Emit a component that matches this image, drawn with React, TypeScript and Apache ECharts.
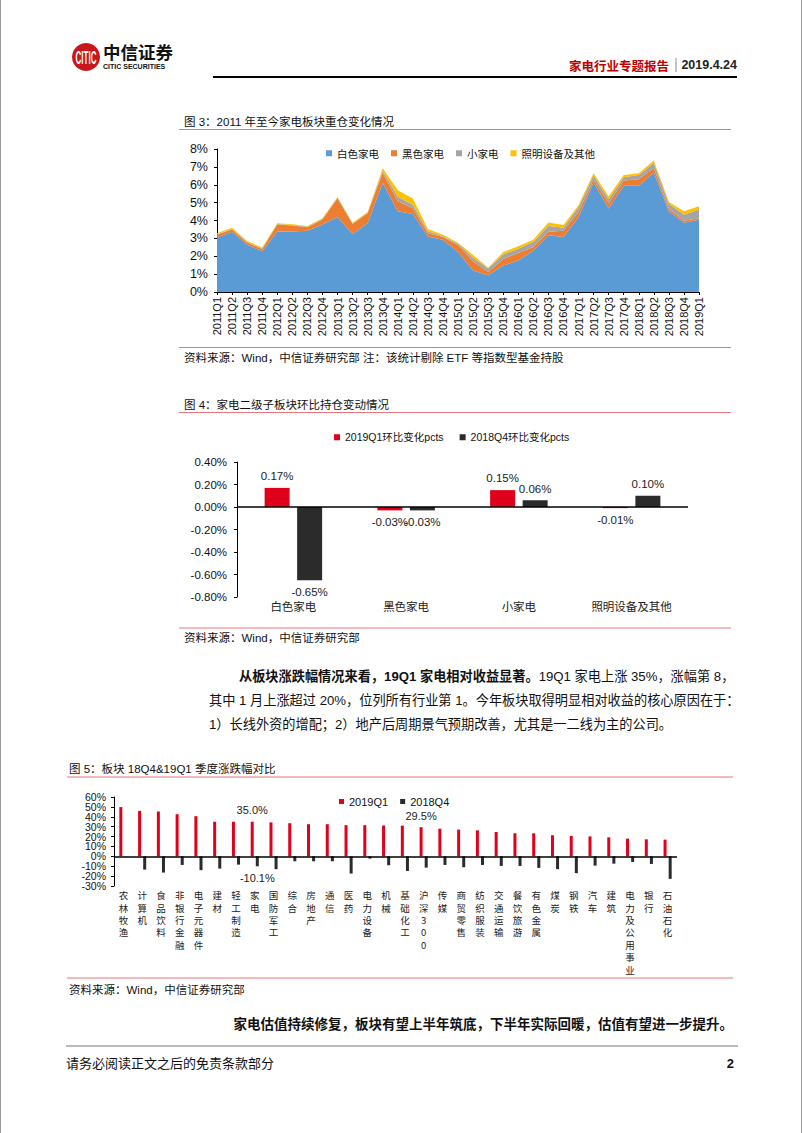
import React, { useEffect, useRef } from 'react';
import * as echarts from 'echarts';

const FF = "'Liberation Sans', 'Noto Sans CJK SC', sans-serif";
const CJK = "'Noto Sans CJK SC', 'Liberation Sans', sans-serif";

// ---- Figure 3: stacked area (weights, %) ----
const quarters = [
  '2011Q1', '2011Q2', '2011Q3', '2011Q4', '2012Q1', '2012Q2', '2012Q3', '2012Q4',
  '2013Q1', '2013Q2', '2013Q3', '2013Q4', '2014Q1', '2014Q2', '2014Q3', '2014Q4',
  '2015Q1', '2015Q2', '2015Q3', '2015Q4', '2016Q1', '2016Q2', '2016Q3', '2016Q4',
  '2017Q1', '2017Q2', '2017Q3', '2017Q4', '2018Q1', '2018Q2', '2018Q3', '2018Q4', '2019Q1',
];
const whiteGoods = [3.03, 3.37, 2.64, 2.28, 3.38, 3.38, 3.42, 3.78, 4.19, 3.25, 3.85, 6.1, 4.52, 4.36, 3.1, 2.92, 2.24, 1.2, 0.94, 1.48, 1.76, 2.32, 3.17, 3.07, 4.18, 6.12, 4.67, 5.94, 5.95, 6.69, 4.52, 3.87, 4.04];
const blackGoods = [0.17, 0.13, 0.13, 0.12, 0.4, 0.34, 0.2, 0.27, 1.06, 0.55, 0.55, 0.57, 0.55, 0.32, 0.18, 0.15, 0.38, 0.52, 0.18, 0.37, 0.42, 0.2, 0.2, 0.35, 0.3, 0.17, 0.29, 0.3, 0.36, 0.25, 0.14, 0.11, 0.08];
const smallAppl = [0.03, 0.03, 0.03, 0.03, 0.03, 0.03, 0.03, 0.03, 0.03, 0.03, 0.03, 0.12, 0.26, 0.2, 0.12, 0.05, 0.08, 0.2, 0.19, 0.25, 0.24, 0.28, 0.32, 0.18, 0.28, 0.23, 0.23, 0.18, 0.24, 0.27, 0.28, 0.34, 0.49];
const lightingEtc = [0.06, 0.06, 0.06, 0.06, 0.04, 0.04, 0.04, 0.04, 0.04, 0.04, 0.04, 0.13, 0.36, 0.35, 0.12, 0.08, 0.05, 0.15, 0.05, 0.13, 0.14, 0.13, 0.2, 0.15, 0.1, 0.13, 0.15, 0.13, 0.1, 0.15, 0.1, 0.2, 0.19];
const areaNames = ['白色家电', '黑色家电', '小家电', '照明设备及其他'];
const areaColors = ['#5B9BD5', '#ED7D31', '#A5A5A5', '#FFC000'];

// ---- Figure 4: QoQ change (pcts) ----
const subSectors = ['白色家电', '黑色家电', '小家电', '照明设备及其他'];
const chg19Q1 = [0.17, -0.03, 0.15, -0.01];
const chg18Q4 = [-0.65, -0.03, 0.06, 0.1];
const chgNames = ['2019Q1环比变化pcts', '2018Q4环比变化pcts'];

// ---- Figure 5: sector returns (%) ----
const sectors = ['农林牧渔', '计算机', '食品饮料', '非银行金融', '电子元器件', '建材', '轻工制造', '家电', '国防军工', '综合', '房地产', '通信', '医药', '电力设备', '机械', '基础化工', '沪深300', '传媒', '商贸零售', '纺织服装', '交通运输', '餐饮旅游', '有色金属', '煤炭', '钢铁', '汽车', '建筑', '电力及公用事业', '银行', '石油石化'];
const ret19Q1 = [49.8, 46.0, 45.3, 42.6, 40.6, 35.0, 35.0, 35.0, 34.3, 33.5, 32.5, 32.5, 31.5, 31.5, 31.2, 31.0, 29.5, 28.0, 27.0, 26.3, 24.6, 23.3, 23.3, 21.3, 20.6, 20.2, 19.2, 17.9, 17.2, 16.9];
const ret18Q4 = [0.3, -13.4, -16.4, -8.7, -14.0, -12.4, -8.4, -10.1, -13.0, -5.0, -5.0, -5.0, -17.4, -2.3, -9.0, -14.8, -11.4, -8.7, -11.0, -8.7, -9.7, -9.7, -11.7, -13.0, -17.0, -9.4, -7.4, -5.7, -7.7, -22.8];
const retNames = ['2019Q1', '2018Q4'];
const labeledQ1 = ['家电', '沪深300'];
const labeledQ4 = ['家电'];

const RED = '#E0001B';
const DARK = '#2B2B2B';
const PINK = '#E5767D';

function T(text: string, x: number, y: number, o: any = {}) {
  const style: any = {
    text,
    fill: o.fill ?? '#111',
    font: `${o.bold ? 'bold ' : ''}${o.size ?? 12}px ${o.family ?? FF}`,
    textAlign: o.align ?? 'left',
    align: o.align ?? 'left',
    textVerticalAlign: 'middle',
    verticalAlign: 'middle',
  };
  if (o.rich) style.rich = o.rich;
  return {
    type: 'text',
    x,
    y,
    silent: true,
    scaleX: o.scaleX ?? 1,
    scaleY: o.scaleY ?? 1,
    style,
  };
}
function L(x1: number, y1: number, x2: number, y2: number, stroke: string, lineWidth = 1) {
  return { type: 'line', silent: true, shape: { x1, y1, x2, y2 }, style: { stroke, lineWidth } };
}

const pctFmt2 = (v: number) => (Math.abs(v) < 1e-9 ? '0.00' : v.toFixed(2)) + '%';

export default function App() {
  const ref = useRef<HTMLDivElement>(null);
  useEffect(() => {
    const chart = echarts.init(ref.current!, null, { renderer: 'svg', width: 802, height: 1133 });

    const areaData = [whiteGoods, blackGoods, smallAppl, lightingEtc];
    const P = 13.2;

    // figure 5 y-axis labels are split over two coincident axes so that none is dropped
    const retAxisLabel = (odd: boolean) => ({
      fontSize: 10.5, color: '#111', margin: 8, showMinLabel: true, showMaxLabel: true,
      formatter: (v: number) => {
        const k = Math.round(v / 10);
        const isOdd = Math.abs(k) % 2 === 1;
        return isOdd === odd ? `${Math.round(v)}%` : '';
      },
    });

    const option: any = {
      animation: false,
      textStyle: { fontFamily: FF },
      grid: [
        { left: 216, right: 104, top: 149, bottom: 841 },
        { left: 236, right: 115, top: 462, bottom: 1133 - 597 },
        { left: 113, right: 126, top: 797, bottom: 1133 - 886 },
      ],
      legend: [
        {
          data: areaNames, left: 320, top: 143, icon: 'rect', itemWidth: 6, itemHeight: 6, itemGap: 12,
          textStyle: { fontSize: 10.5, color: '#111', fontFamily: CJK },
        },
        {
          data: chgNames, left: 328, top: 427, icon: 'rect', itemWidth: 6, itemHeight: 6, itemGap: 16,
          textStyle: { fontSize: 10.5, color: '#111', fontFamily: FF },
        },
        {
          data: retNames, left: 333, top: 791, icon: 'rect', itemWidth: 5, itemHeight: 5, itemGap: 12,
          textStyle: { fontSize: 11, color: '#111', fontFamily: FF },
        },
      ],
      xAxis: [
        {
          gridIndex: 0, type: 'category', data: quarters, boundaryGap: false,
          axisLine: { lineStyle: { color: '#000', width: 1 } },
          axisTick: { show: true, length: 3, lineStyle: { color: '#000' } },
          axisLabel: { rotate: 90, interval: 0, fontSize: 11, color: '#111', margin: 5 },
          splitLine: { show: false },
        },
        {
          gridIndex: 1, type: 'category', data: subSectors,
          axisLine: { show: false, onZero: false },
          axisTick: { show: false },
          axisLabel: { fontSize: 11.5, color: '#222', margin: 3, fontFamily: CJK },
        },
        {
          gridIndex: 2, type: 'category', data: sectors,
          axisLine: { show: false, onZero: false },
          axisTick: { show: false },
          axisLabel: {
            interval: 0, fontSize: 9.5, lineHeight: 12.4, color: '#222', margin: 3, fontFamily: CJK,
            verticalAlign: 'top',
            formatter: (s: string) => s.split('').join('\n'),
          },
        },
      ],
      yAxis: [
        {
          gridIndex: 0, type: 'value', min: 0, max: 8, interval: 1,
          axisLine: { show: true, lineStyle: { color: '#000' } },
          axisTick: { show: true, length: 3, lineStyle: { color: '#000' } },
          axisLabel: { formatter: '{value}%', fontSize: 12.5, color: '#111', margin: 9 },
          splitLine: { show: false },
        },
        {
          gridIndex: 1, type: 'value', min: -0.8, max: 0.4, interval: 0.2,
          axisLine: { show: true, lineStyle: { color: '#000' } },
          axisTick: { show: true, length: 3, lineStyle: { color: '#000' } },
          axisLabel: { formatter: pctFmt2, fontSize: 11.5, color: '#111', margin: 10 },
          splitLine: { show: false },
        },
        {
          gridIndex: 2, type: 'value', min: -30, max: 60, interval: 10, position: 'left',
          axisLine: { show: true, lineStyle: { color: '#000' } },
          axisTick: { show: true, length: 3, lineStyle: { color: '#000' } },
          axisLabel: retAxisLabel(false),
          splitLine: { show: false },
        },
        {
          gridIndex: 2, type: 'value', min: -30, max: 60, interval: 10, position: 'left', offset: 0,
          axisLine: { show: false },
          axisTick: { show: false },
          axisLabel: retAxisLabel(true),
          splitLine: { show: false },
        },
      ],
      series: [
        ...areaNames.map((name, k) => ({
          name, type: 'line', stack: 'w', xAxisIndex: 0, yAxisIndex: 0,
          data: areaData[k], symbol: 'none', showSymbol: false,
          lineStyle: { width: 0 },
          areaStyle: { color: areaColors[k], opacity: 1 },
          itemStyle: { color: areaColors[k] },
        })),
        ...[chg19Q1, chg18Q4].map((arr, k) => ({
          name: chgNames[k], type: 'bar', xAxisIndex: 1, yAxisIndex: 1,
          barWidth: 25, barGap: '30%',
          itemStyle: { color: k === 0 ? RED : DARK },
          data: arr.map((v) => ({ value: v, label: { position: v < 0 ? 'bottom' : 'top' } })),
          label: {
            show: true, fontSize: 11.5, color: '#222', distance: 6,
            formatter: (p: any) => pctFmt2(p.value),
          },
          markLine: k === 0 ? {
            silent: true, symbol: ['none', 'none'], label: { show: false },
            lineStyle: { color: '#000', width: 1.5, type: 'solid' },
            data: [{ yAxis: 0 }],
          } : undefined,
        })),
        {
          name: retNames[0], type: 'bar', xAxisIndex: 2, yAxisIndex: 2,
          barWidth: 3, barGap: '70%', itemStyle: { color: RED },
          data: ret19Q1.map((v, i) => labeledQ1.includes(sectors[i]) ? { value: v, label: { show: true } } : v),
          label: { show: false, position: 'top', distance: 6, fontSize: 11, color: '#222', formatter: (p: any) => p.value.toFixed(1) + '%' },
          markLine: {
            silent: true, symbol: ['none', 'none'], label: { show: false },
            lineStyle: { color: '#000', width: 1.5, type: 'solid' },
            data: [{ yAxis: 0 }],
          },
        },
        {
          name: retNames[1], type: 'bar', xAxisIndex: 2, yAxisIndex: 2,
          barWidth: 3, itemStyle: { color: DARK },
          data: ret18Q4.map((v, i) => labeledQ4.includes(sectors[i]) ? { value: v, label: { show: true } } : v),
          label: { show: false, position: 'bottom', distance: 6, fontSize: 11, color: '#222', formatter: (p: any) => p.value.toFixed(1) + '%' },
        },
      ],
      graphic: {
        elements: [
          // header
          { type: 'circle', silent: true, shape: { cx: 85, cy: 57, r: 14 }, style: { fill: '#C8161D' } },
          T('CITIC', 85, 57, { fill: '#fff', bold: true, size: 8, align: 'center', scaleY: 2.4 }),
          T('中信证券', 102, 51, { bold: true, size: 17.5, family: CJK, fill: '#111' }),
          T('CITIC SECURITIES', 102, 66, { bold: true, size: 7, fill: '#111' }),
          T('家电行业专题报告', 668, 65, { bold: true, size: 12.5, family: CJK, fill: '#C00000', align: 'right' }),
          L(675, 58, 675, 72, '#888', 1),
          T('2019.4.24', 736, 65, { bold: true, size: 12.5, fill: '#222', align: 'right' }),
          L(212, 77, 736, 77, '#000', 2),

          // figure 3
          T('图 3：2011 年至今家电板块重仓变化情况', 183, 122, { size: 11.5 }),
          L(178, 129.5, 730, 129.5, PINK, 1),
          L(178, 347.5, 730, 347.5, PINK, 1),
          T('资料来源：Wind，中信证券研究部 注：该统计剔除 ETF 等指数型基金持股', 183, 358, { size: 11.5 }),

          // figure 4
          T('图 4：家电二级子板块环比持仓变动情况', 183, 405, { size: 11.5 }),
          L(178, 412.5, 730, 412.5, PINK, 1),
          L(178, 628, 730, 628, PINK, 1),
          T('资料来源：Wind，中信证券研究部', 183, 638, { size: 11.5 }),

          // paragraph
          T('{b|从板块涨跌幅情况来看，19Q1 家电相对收益显著。}19Q1 家电上涨 35%，涨幅第 8，', 238, 676, {
            size: P,
            rich: { b: { fontWeight: 'bold', fontSize: P, fontFamily: FF, fill: '#111' } },
          }),
          T('其中 1 月上涨超过 20%，位列所有行业第 1。今年板块取得明显相对收益的核心原因在于：', 208, 700, { size: P }),
          T('1）长线外资的增配；2）地产后周期景气预期改善，尤其是一二线为主的公司。', 208, 724, { size: P }),

          // figure 5
          T('图 5：板块 18Q4&19Q1 季度涨跌幅对比', 68, 769, { size: 11.5 }),
          L(66, 777, 732, 777, PINK, 1),
          L(66, 978, 732, 978, PINK, 1),
          T('资料来源：Wind，中信证券研究部', 68, 990, { size: 11.5 }),

          T('家电估值持续修复，板块有望上半年筑底，下半年实际回暖，估值有望进一步提升。', 732, 1024, { bold: true, size: 13.5, align: 'right' }),

          // footer
          L(65, 1046, 737, 1046, '#777', 1),
          T('请务必阅读正文之后的免责条款部分', 65, 1063, { size: 13 }),
          T('2', 733, 1063, { bold: true, size: 13, align: 'right' }),
        ],
      },
    };

    chart.setOption(option);
    return () => chart.dispose();
  }, []);

  return (
    <div
      ref={ref}
      style={{ position: 'absolute', left: 0, top: 0, width: 802, height: 1133, background: '#fff', boxSizing: 'border-box', borderLeft: '1px solid #999', borderRight: '1px solid #999' }}
    />
  );
}
